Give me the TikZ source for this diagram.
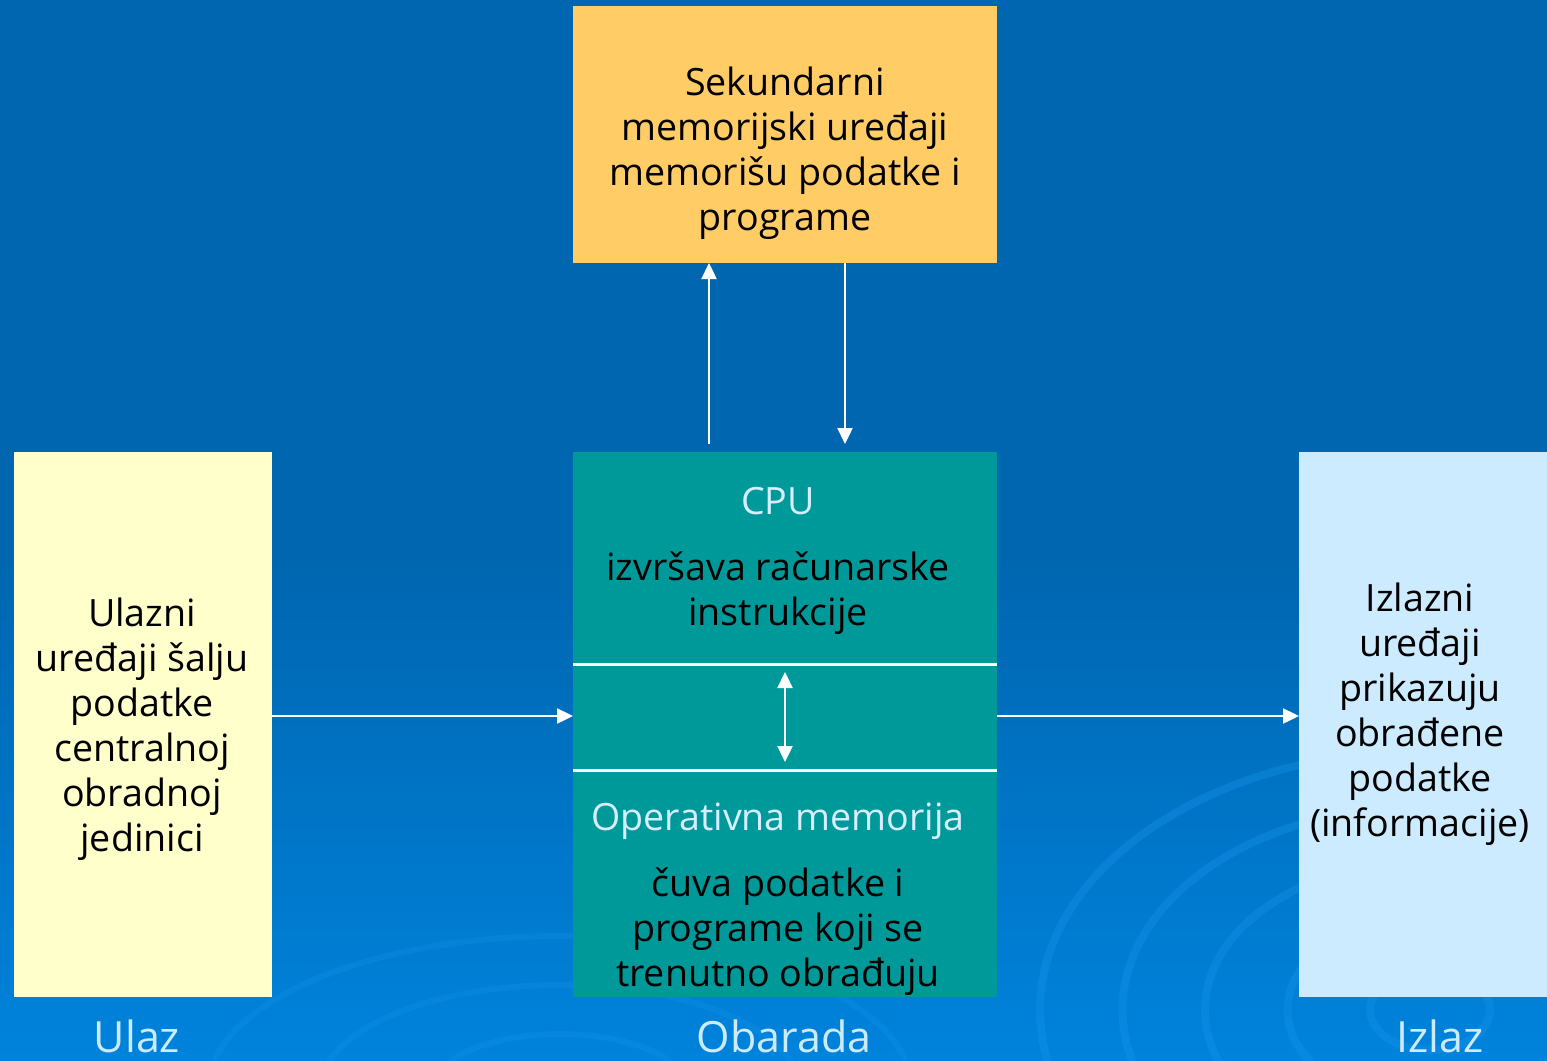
\documentclass[tikz,border=0pt]{standalone}
\usepackage{fontspec}
\setmainfont{Open Sans}
\usetikzlibrary{arrows.meta,calc}
\definecolor{bgtop}{RGB}{0,102,176}
\definecolor{bgbot}{RGB}{0,131,220}
\definecolor{swirl}{RGB}{20,145,232}
\definecolor{secfill}{RGB}{255,204,102}
\definecolor{infill}{RGB}{255,255,204}
\definecolor{procfill}{RGB}{0,153,153}
\definecolor{outfill}{RGB}{204,235,255}
\definecolor{lighttxt}{RGB}{214,238,255}
\tikzset{
  box/.style={draw=none, inner sep=0pt, outer sep=0pt},
  arr/.style={white, line width=1.2pt, -{Triangle[length=8pt,width=7.5pt]}},
  darr/.style={white, line width=1.2pt, {Triangle[length=8pt,width=7.5pt]}-{Triangle[length=8pt,width=7.5pt]}},
  sep/.style={white, line width=1.5pt},
  txt/.style={align=center, inner sep=0pt, font=\fontsize{18.8}{22.5}\selectfont},
  ltxt/.style={txt, text=lighttxt},
  lab/.style={inner sep=0pt, anchor=base, text=outfill, font=\fontsize{21.5}{26}\selectfont}
}
\begin{document}
\begin{tikzpicture}[x=0.5pt,y=-0.5pt]
% background
\fill[bgtop] (0,0) rectangle (1547,1060);
\shade[top color=bgtop, bottom color=bgbot] (0,560) rectangle (1547,1060);
\useasboundingbox (0,0) rectangle (1547,1060);
\begin{scope}
\clip (0,0) rectangle (1547,1060);
\foreach \r in {40,95,150,205,260} {
  \draw[swirl, line width=4pt, opacity=0.4] (1430,1010) ellipse ({\r*1.5} and {\r});
}
\foreach \r in {80,150,220} {
  \draw[swirl, line width=3pt, opacity=0.3] (560,1090) ellipse ({\r*1.6} and {\r*0.7});
}
\end{scope}
% boxes
\node[box, fill=secfill, minimum width=212pt, minimum height=128.5pt] (sec) at (785,134.5) {};
\node[box, fill=infill, minimum width=129pt, minimum height=272.5pt] (in) at (143,724.5) {};
\node[box, fill=procfill, minimum width=212pt, minimum height=272.5pt] (proc) at (785,724.5) {};
\node[box, fill=outfill, minimum width=124pt, minimum height=272.5pt] (out) at (1423,724.5) {};
% separators inside processing box
\coordinate (s1) at (0,664);
\coordinate (s2) at (0,770);
\draw[sep] (s1 -| proc.west) -- (s1 -| proc.east);
\draw[sep] (s2 -| proc.west) -- (s2 -| proc.east);
% texts
\node[txt] (sect) at (785,153) {Sekundarni\\memorijski uređaji\\memorišu podatke i\\programe};
\node[ltxt] (cpu) at (778,501) {CPU};
\node[txt] (cput) at (778,593) {izvršava računarske\\instrukcije};
\node[ltxt] (om) at (778,821) {Operativna memorija};
\node[txt] (omt) at (778,932) {čuva podatke i\\programe koji se\\trenutno obrađuju};
\node[txt] (int) at (142,729) {Ulazni\\uređaji šalju\\podatke\\centralnoj\\obradnoj\\jedinici};
\node[txt] (outt) at (1420,714) {Izlazni\\uređaji\\prikazuju\\obrađene\\podatke\\(informacije)};
\node[lab] (l1) at (137,1052) {Ulaz};
\node[lab] (l2) at (784,1052) {Obarada};
\node[lab] (l3) at (1440,1052) {Izlaz};
% connectors
\coordinate (ua) at (709,444);
\coordinate (db) at (845,444);
\draw[arr] (ua) -- (ua |- sec.south);
\draw[arr] (db |- sec.south) -- (db);
\coordinate (h) at (0,716);
\draw[arr] (h -| in.east) -- (h -| proc.west);
\draw[arr] (h -| proc.east) -- (h -| out.west);
\coordinate (d1) at (785,672);
\coordinate (d2) at (785,762);
\draw[darr] (d1) -- (d2);
\end{tikzpicture}
\end{document}
